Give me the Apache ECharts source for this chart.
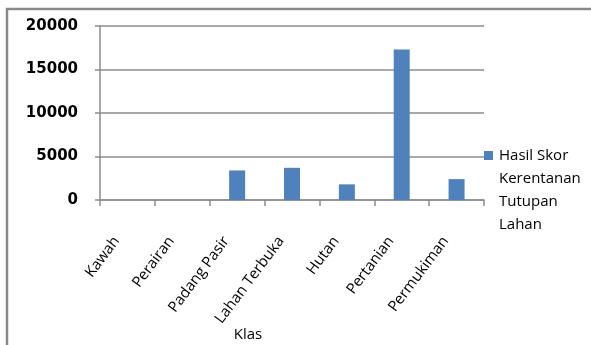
<!DOCTYPE html>
<html>
<head>
<meta charset="utf-8">
<script src="https://cdn.jsdelivr.net/npm/echarts@6/dist/echarts.min.js"></script>
<style>
html,body{margin:0;padding:0;background:#fff;}
#c{width:591px;height:345px;}
</style>
</head>
<body>
<div id="c"></div>
<script>
var categories = ['Kawah', 'Perairan', 'Padang Pasir', 'Lahan Terbuka', 'Hutan', 'Pertanian', 'Permukiman'];
var values = [0, 0, 3400, 3700, 1800, 17300, 2400];
var yTicks = [0, 5000, 10000, 15000, 20000];
var seriesName = 'Hasil Skor Kerentanan Tutupan Lahan';
var seriesLines = ['Hasil Skor', 'Kerentanan', 'Tutupan', 'Lahan'];
var axisTitle = 'Klas';

var labelRotate = 53;
var labelShift = 30; // shift rotated labels left (screen px)
var th = labelRotate * Math.PI / 180;
var padAlong = Math.round(labelShift * Math.cos(th));
var padPerp = Math.round(labelShift * Math.sin(th));

var chart = echarts.init(document.getElementById('c'), null, {renderer: 'canvas'});
chart.setOption({
  animation: false,
  backgroundColor: '#fff',
  title: {
    text: axisTitle,
    left: 243,
    top: 322,
    textAlign: 'center',
    textStyle: {fontFamily: 'Open Sans', fontSize: 15, fontWeight: 'normal', color: '#000'}
  },
  graphic: [{
    type: 'rect',
    shape: {x: 7, y: 9, width: 620, height: 360},
    style: {fill: 'none', stroke: '#8a8a8a', lineWidth: 2.5},
    silent: true
  }, {
    type: 'rect',
    shape: {x: 484, y: 151, width: 9, height: 9},
    style: {fill: '#4f81bd'},
    silent: true
  }, {
    type: 'text',
    x: 499,
    y: 144,
    style: {
      text: seriesLines.join('\n'),
      fontFamily: 'Open Sans',
      fontSize: 15,
      lineHeight: 23,
      fill: '#000',
      verticalAlign: 'top'
    },
    silent: true
  }],
  grid: {left: 100, right: 107, top: 26, bottom: 145, containLabel: false},
  xAxis: {
    type: 'category',
    data: categories,
    axisLine: {lineStyle: {color: '#8c8c8c', width: 1.5}},
    axisTick: {show: true, length: 6, lineStyle: {color: '#8c8c8c', width: 1.5}},
    axisLabel: {rotate: labelRotate, margin: 24, interval: 0, hideOverlap: false,
      padding: [0, padAlong, padPerp * 2, 0],
      fontFamily: 'Open Sans', fontSize: 15, color: '#000'}
  },
  yAxis: {
    type: 'value',
    min: yTicks[0],
    max: yTicks[yTicks.length - 1],
    interval: yTicks[1] - yTicks[0],
    axisLine: {show: true, lineStyle: {color: '#8c8c8c', width: 1.5}},
    axisTick: {show: true, length: 5, lineStyle: {color: '#8c8c8c', width: 1.5}},
    splitLine: {lineStyle: {color: '#8c8c8c', width: 1.5}},
    axisLabel: {margin: 22, fontFamily: 'DejaVu Sans', fontWeight: 'bold', fontSize: 15, color: '#000',
      formatter: function (v) { return String(v); }}
  },
  series: [{
    name: seriesName,
    type: 'bar',
    data: values,
    barWidth: 16,
    itemStyle: {color: '#4f81bd'}
  }]
});
</script>
</body>
</html>
